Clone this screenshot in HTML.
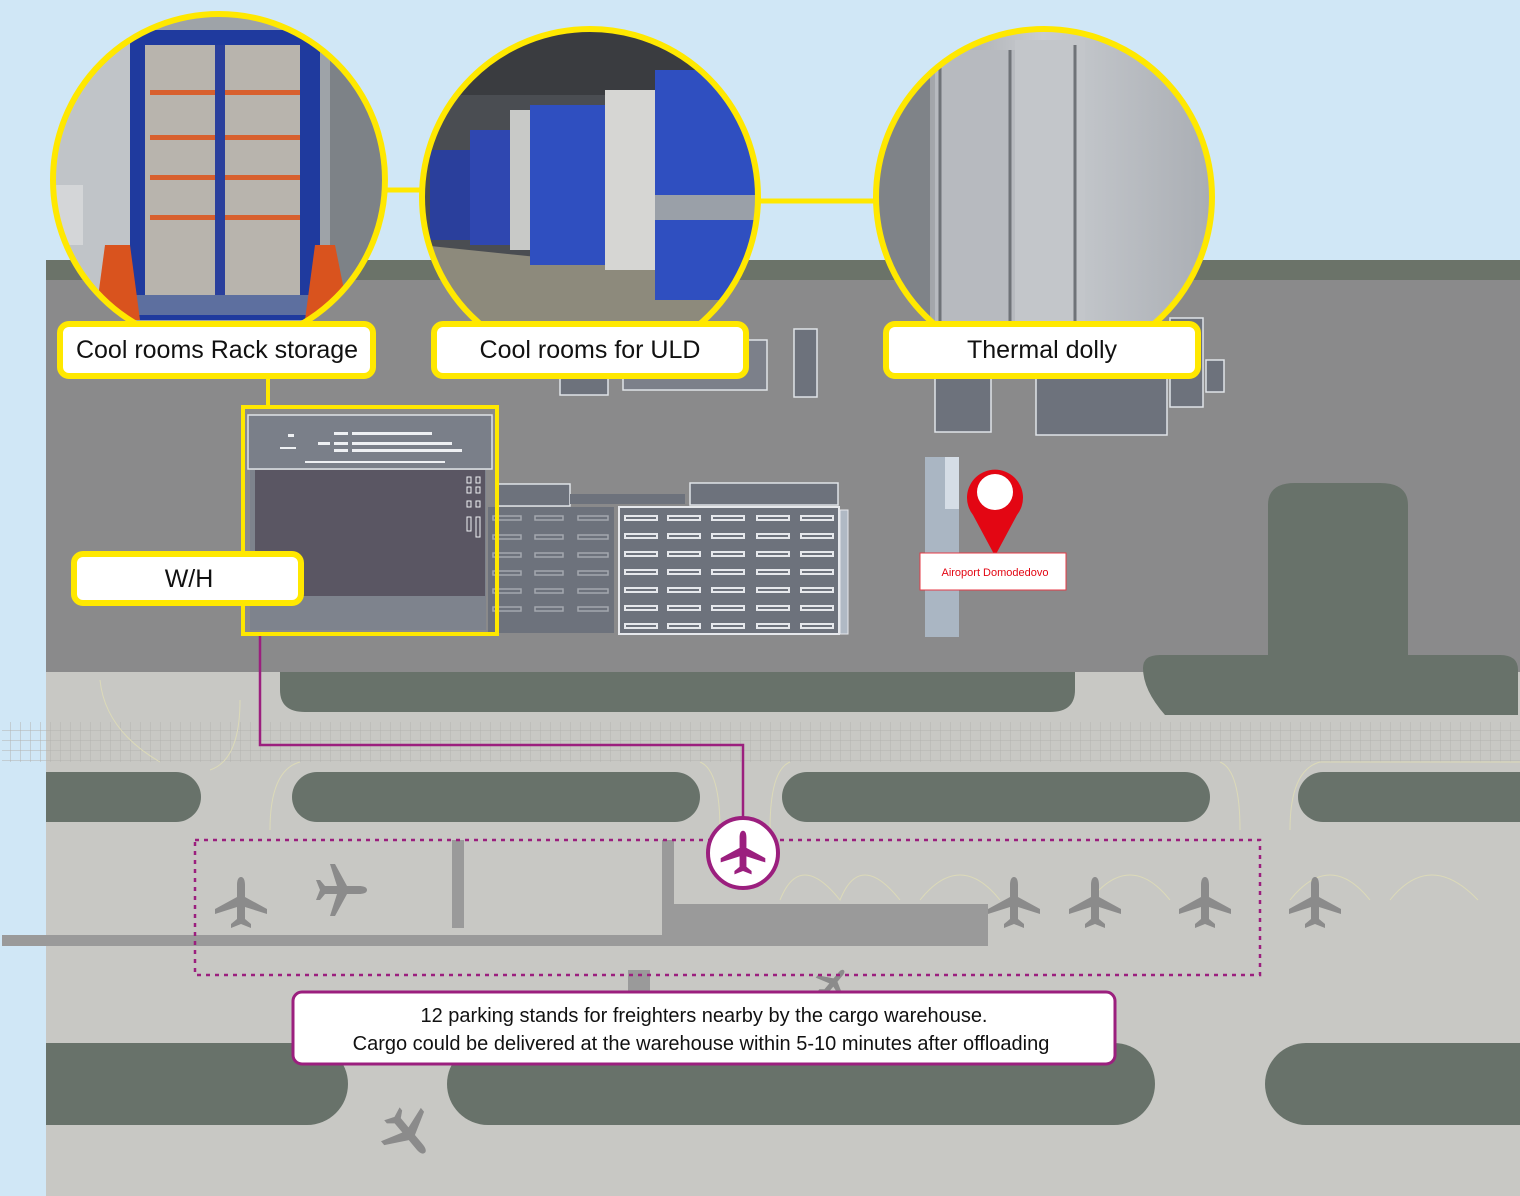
<!DOCTYPE html>
<html><head><meta charset="utf-8"><style>
html,body{margin:0;padding:0;background:#d0e7f6;}
svg{display:block;font-family:"Liberation Sans",sans-serif;}
</style></head><body>
<svg width="1520" height="1196" viewBox="0 0 1520 1196" xmlns="http://www.w3.org/2000/svg">
<defs>
<symbol id="pl" viewBox="-28 -28 56 56">
<path d="M0,-26 C3,-26 4,-22 4,-18 L4,-6 L26,6 L26,11 L4,4 L4,16 L10,21 L10,25 L0,21 L-10,25 L-10,21 L-4,16 L-4,4 L-26,11 L-26,6 L-4,-6 L-4,-18 C-4,-22 -3,-26 0,-26Z"/>
</symbol>
<clipPath id="c1"><circle cx="219" cy="180" r="165"/></clipPath>
<clipPath id="c2"><circle cx="590" cy="197" r="167"/></clipPath>
<clipPath id="c3"><circle cx="1044" cy="197" r="167"/></clipPath>
<pattern id="grid" width="10" height="10" patternUnits="userSpaceOnUse"><path d="M10 0H0V10" fill="none" stroke="#b3b3b0" stroke-width="1"/></pattern>
<linearGradient id="g3" x1="0" x2="1"><stop offset="0" stop-color="#8e9196"/><stop offset=".5" stop-color="#c9ccd0"/><stop offset="1" stop-color="#a9adb3"/></linearGradient>
</defs>
<rect width="1520" height="1196" fill="#d0e7f6"/>
<rect x="46" y="260" width="1474" height="22" fill="#6b7369"/>
<rect x="46" y="280" width="1474" height="392" fill="#8a8a8b"/>
<rect x="46" y="672" width="1474" height="524" fill="#c8c8c4"/>
<path d="M280 672H1075V690Q1075 712 1050 712H305Q280 712 280 690Z" fill="#68726a"/>
<path d="M1268 505Q1268 483 1295 483H1380Q1408 483 1408 505V655H1500Q1518 655 1518 670V715H1165Q1143 690 1143 668Q1143 655 1160 655H1268Z" fill="#68726a"/>
<rect x="2" y="722" width="1518" height="40" fill="url(#grid)"/>
<path d="M46 772H176A25 25 0 0 1 176 822H46Z" fill="#68726a"/>
<rect x="292" y="772" width="408" height="50" rx="25" fill="#68726a"/>
<rect x="782" y="772" width="428" height="50" rx="25" fill="#68726a"/>
<rect x="1298" y="772" width="260" height="50" rx="25" fill="#68726a"/>
<path d="M46 1043H307A41 41 0 0 1 307 1125H46Z" fill="#68726a"/>
<rect x="447" y="1043" width="708" height="82" rx="41" fill="#68726a"/>
<rect x="1265" y="1043" width="300" height="82" rx="41" fill="#68726a"/>
<g fill="none" stroke="#dcdab8" stroke-width="1">
<path d="M100 680Q105 730 160 762M210 770Q240 760 240 700 M270 830Q270 770 300 762M720 830Q720 770 700 762M770 830Q770 770 790 762M1240 830Q1240 770 1220 762M1290 830Q1290 770 1320 762H1520"/>
<path d="M780 900Q800 850 840 900Q860 850 900 900M920 900Q960 850 1000 900M1090 900Q1130 850 1170 900M1290 900Q1330 850 1370 900M1390 900Q1430 850 1478 900"/>
</g>
<g fill="#9a9a9a">
<rect x="2" y="935" width="660" height="11"/>
<rect x="452" y="840" width="12" height="88"/>
<rect x="662" y="840" width="12" height="106"/>
<rect x="662" y="904" width="326" height="42"/>
<rect x="628" y="970" width="22" height="22"/>
</g>
<g fill="#8b8b8b">
<use href="#pl" x="213" y="875" width="56" height="56"/>
<use href="#pl" x="313" y="862" width="56" height="56" transform="rotate(90 341 890)"/>
<use href="#pl" x="986" y="875" width="56" height="56"/>
<use href="#pl" x="1067" y="875" width="56" height="56"/>
<use href="#pl" x="1177" y="875" width="56" height="56"/>
<use href="#pl" x="1287" y="875" width="56" height="56"/>
<use href="#pl" x="380" y="1105" width="56" height="56" transform="rotate(140 408 1133)"/>
<use href="#pl" x="815" y="965" width="36" height="36" transform="rotate(40 833 983)"/>
</g>
<rect x="195" y="840" width="1065" height="135" fill="none" stroke="#9b1f7e" stroke-width="2.5" stroke-dasharray="4 5"/>
<path d="M260 635V745H743V818" fill="none" stroke="#9b1f7e" stroke-width="2.5"/>
<circle cx="743" cy="853" r="35" fill="#fff" stroke="#9b1f7e" stroke-width="4"/>
<use href="#pl" x="719" y="829" width="48" height="48" fill="#9b1f7e"/>
<rect x="293" y="992" width="822" height="72" rx="9" fill="#fff" stroke="#9b1f7e" stroke-width="3"/>
<text x="704" y="1022" text-anchor="middle" font-size="20" fill="#111">12 parking stands for freighters nearby by the cargo warehouse.</text>
<text x="701" y="1050" text-anchor="middle" font-size="20" fill="#111">Cargo could be delivered at the warehouse within 5-10 minutes after offloading</text>
<g stroke="#dfe3e8" stroke-width="1.5" fill="#6d727c">
<rect x="560" y="345" width="48" height="50"/>
<rect x="623" y="340" width="144" height="50" fill="#7c808a"/>
<rect x="794" y="329" width="23" height="68"/>
<rect x="935" y="370" width="56" height="62"/>
<rect x="1036" y="370" width="131" height="65"/>
<rect x="1170" y="318" width="33" height="89"/>
<rect x="1206" y="360" width="18" height="32"/>
<rect x="690" y="483" width="148" height="22"/>
<rect x="497" y="484" width="73" height="22"/>
</g>
<rect x="570" y="494" width="115" height="10" fill="#6d727c"/>
<rect x="488" y="507" width="126" height="126" fill="#6d727c"/>
<g fill="none" stroke="#a3a7ae" stroke-width="1.5">
<rect x="493" y="516" width="28" height="4"/><rect x="535" y="516" width="28" height="4"/><rect x="578" y="516" width="30" height="4"/>
<rect x="493" y="535" width="28" height="4"/><rect x="535" y="535" width="28" height="4"/><rect x="578" y="535" width="30" height="4"/>
<rect x="493" y="553" width="28" height="4"/><rect x="535" y="553" width="28" height="4"/><rect x="578" y="553" width="30" height="4"/>
<rect x="493" y="571" width="28" height="4"/><rect x="535" y="571" width="28" height="4"/><rect x="578" y="571" width="30" height="4"/>
<rect x="493" y="589" width="28" height="4"/><rect x="535" y="589" width="28" height="4"/><rect x="578" y="589" width="30" height="4"/>
<rect x="493" y="607" width="28" height="4"/><rect x="535" y="607" width="28" height="4"/><rect x="578" y="607" width="30" height="4"/>
</g>
<rect x="619" y="507" width="220" height="127" fill="#6d727c" stroke="#e6e8ec" stroke-width="2"/>
<rect x="840" y="510" width="8" height="124" fill="#b0b9c4" stroke="#e6e8ec"/>
<g fill="none" stroke="#e6e8ec" stroke-width="2">
<path d="M625 516h32v4h-32zM668 516h32v4h-32zM712 516h32v4h-32zM757 516h32v4h-32zM801 516h32v4h-32z"/>
<path d="M625 534h32v4h-32zM668 534h32v4h-32zM712 534h32v4h-32zM757 534h32v4h-32zM801 534h32v4h-32z"/>
<path d="M625 552h32v4h-32zM668 552h32v4h-32zM712 552h32v4h-32zM757 552h32v4h-32zM801 552h32v4h-32z"/>
<path d="M625 570h32v4h-32zM668 570h32v4h-32zM712 570h32v4h-32zM757 570h32v4h-32zM801 570h32v4h-32z"/>
<path d="M625 588h32v4h-32zM668 588h32v4h-32zM712 588h32v4h-32zM757 588h32v4h-32zM801 588h32v4h-32z"/>
<path d="M625 606h32v4h-32zM668 606h32v4h-32zM712 606h32v4h-32zM757 606h32v4h-32zM801 606h32v4h-32z"/>
<path d="M625 624h32v4h-32zM668 624h32v4h-32zM712 624h32v4h-32zM757 624h32v4h-32zM801 624h32v4h-32z"/>
</g>
<rect x="250" y="470" width="236" height="160" fill="#7e838d"/>
<rect x="255" y="470" width="230" height="126" fill="#5a5663"/>
<rect x="248" y="415" width="244" height="54" fill="#7a7f89" stroke="#e0e3e8" stroke-width="1.5"/>
<g fill="#eef0f3">
<rect x="280" y="447" width="16" height="2"/><rect x="288" y="434" width="6" height="3"/><rect x="318" y="442" width="12" height="3"/><rect x="334" y="432" width="14" height="3"/><rect x="334" y="442" width="14" height="3"/><rect x="334" y="449" width="14" height="3"/>
<rect x="352" y="432" width="80" height="3"/><rect x="352" y="442" width="100" height="3"/><rect x="352" y="449" width="110" height="3"/>
<rect x="305" y="461" width="140" height="2"/>
</g>
<g fill="none" stroke="#eef0f3" stroke-width="1"><rect x="467" y="477" width="4" height="6"/><rect x="476" y="477" width="4" height="6"/><rect x="467" y="487" width="4" height="6"/><rect x="476" y="487" width="4" height="6"/><rect x="467" y="501" width="4" height="6"/><rect x="476" y="501" width="4" height="6"/><rect x="467" y="517" width="4" height="14"/><rect x="476" y="517" width="4" height="20"/></g>
<rect x="243" y="407" width="254" height="227" fill="none" stroke="#ffe800" stroke-width="4"/>
<line x1="268" y1="378" x2="268" y2="407" stroke="#ffe800" stroke-width="4"/>
<rect x="925" y="457" width="34" height="180" fill="#aab6c3"/>
<rect x="945" y="457" width="14" height="52" fill="#d5dde6"/>
<path d="M995 556L973 515A28 28 0 1 1 1017 515Z" fill="#e30613"/>
<circle cx="995" cy="492" r="18" fill="#fff"/>
<rect x="920" y="553" width="146" height="37" fill="#fff" stroke="#e63946" stroke-width="1"/>
<text x="995" y="576" text-anchor="middle" font-size="11" fill="#e30613">Airoport Domodedovo</text>
<line x1="385" y1="190" x2="425" y2="190" stroke="#ffe800" stroke-width="5"/>
<line x1="755" y1="201" x2="880" y2="201" stroke="#ffe800" stroke-width="5"/>
<g clip-path="url(#c1)">
<rect x="50" y="10" width="340" height="340" fill="#9ea3a8"/>
<rect x="50" y="10" width="80" height="340" fill="#c0c4c8"/>
<rect x="330" y="10" width="60" height="340" fill="#7d8287"/>
<rect x="130" y="30" width="190" height="290" fill="#1f3a9e"/>
<rect x="145" y="45" width="155" height="250" fill="#b8b4ad"/>
<g fill="#d8602e"><rect x="150" y="90" width="150" height="5"/><rect x="150" y="135" width="150" height="5"/><rect x="150" y="175" width="150" height="5"/><rect x="150" y="215" width="150" height="5"/></g>
<rect x="215" y="45" width="10" height="250" fill="#2a3f9c"/>
<rect x="135" y="295" width="180" height="20" fill="#5d6f9f"/>
<path d="M105 245L130 245L140 320L95 320Z" fill="#d9531e"/><path d="M315 245L335 245L350 320L305 320Z" fill="#d9531e"/>
<rect x="55" y="185" width="28" height="60" fill="#d4d6d8"/>
</g>
<circle cx="219" cy="180" r="166" fill="none" stroke="#ffe800" stroke-width="6"/>
<g clip-path="url(#c2)">
<rect x="420" y="25" width="340" height="345" fill="#4a4d52"/>
<rect x="420" y="25" width="340" height="70" fill="#3a3c40"/>
<path d="M420 245L760 280V370H420Z" fill="#8d8a7c"/>
<rect x="430" y="150" width="50" height="90" fill="#2a3f9c"/>
<rect x="470" y="130" width="50" height="115" fill="#2f47b0"/>
<rect x="510" y="110" width="55" height="140" fill="#c8c9c7"/>
<rect x="530" y="105" width="80" height="160" fill="#2f4fc0"/>
<rect x="605" y="90" width="50" height="180" fill="#d6d6d3"/>
<rect x="655" y="70" width="105" height="230" fill="#2f4fc0"/>
<rect x="655" y="195" width="105" height="25" fill="#9aa0a8"/>
</g>
<circle cx="590" cy="197" r="168" fill="none" stroke="#ffe800" stroke-width="6"/>
<g clip-path="url(#c3)">
<rect x="870" y="25" width="345" height="345" fill="url(#g3)"/>
<rect x="870" y="25" width="60" height="345" fill="#7f8388"/>
<rect x="935" y="50" width="80" height="280" fill="#b7babf"/>
<rect x="1015" y="40" width="70" height="290" fill="#c3c6ca"/>
<g stroke="#6f7378" stroke-width="3"><line x1="940" y1="60" x2="940" y2="330"/><line x1="1010" y1="50" x2="1010" y2="330"/><line x1="1075" y1="45" x2="1075" y2="330"/></g>
</g>
<circle cx="1044" cy="197" r="168" fill="none" stroke="#ffe800" stroke-width="6"/>
<g fill="#fff" stroke="#ffe800" stroke-width="6">
<rect x="60" y="324" width="313" height="52" rx="9"/>
<rect x="434" y="324" width="312" height="52" rx="9"/>
<rect x="886" y="324" width="312" height="52" rx="9"/>
<rect x="74" y="554" width="227" height="49" rx="9"/>
</g>
<g font-size="25" fill="#111" text-anchor="middle">
<text x="217" y="358">Cool rooms Rack storage</text>
<text x="590" y="358">Cool rooms for ULD</text>
<text x="1042" y="358">Thermal dolly</text>
<text x="189" y="587">W/H</text>
</g>
</svg>
</body></html>
